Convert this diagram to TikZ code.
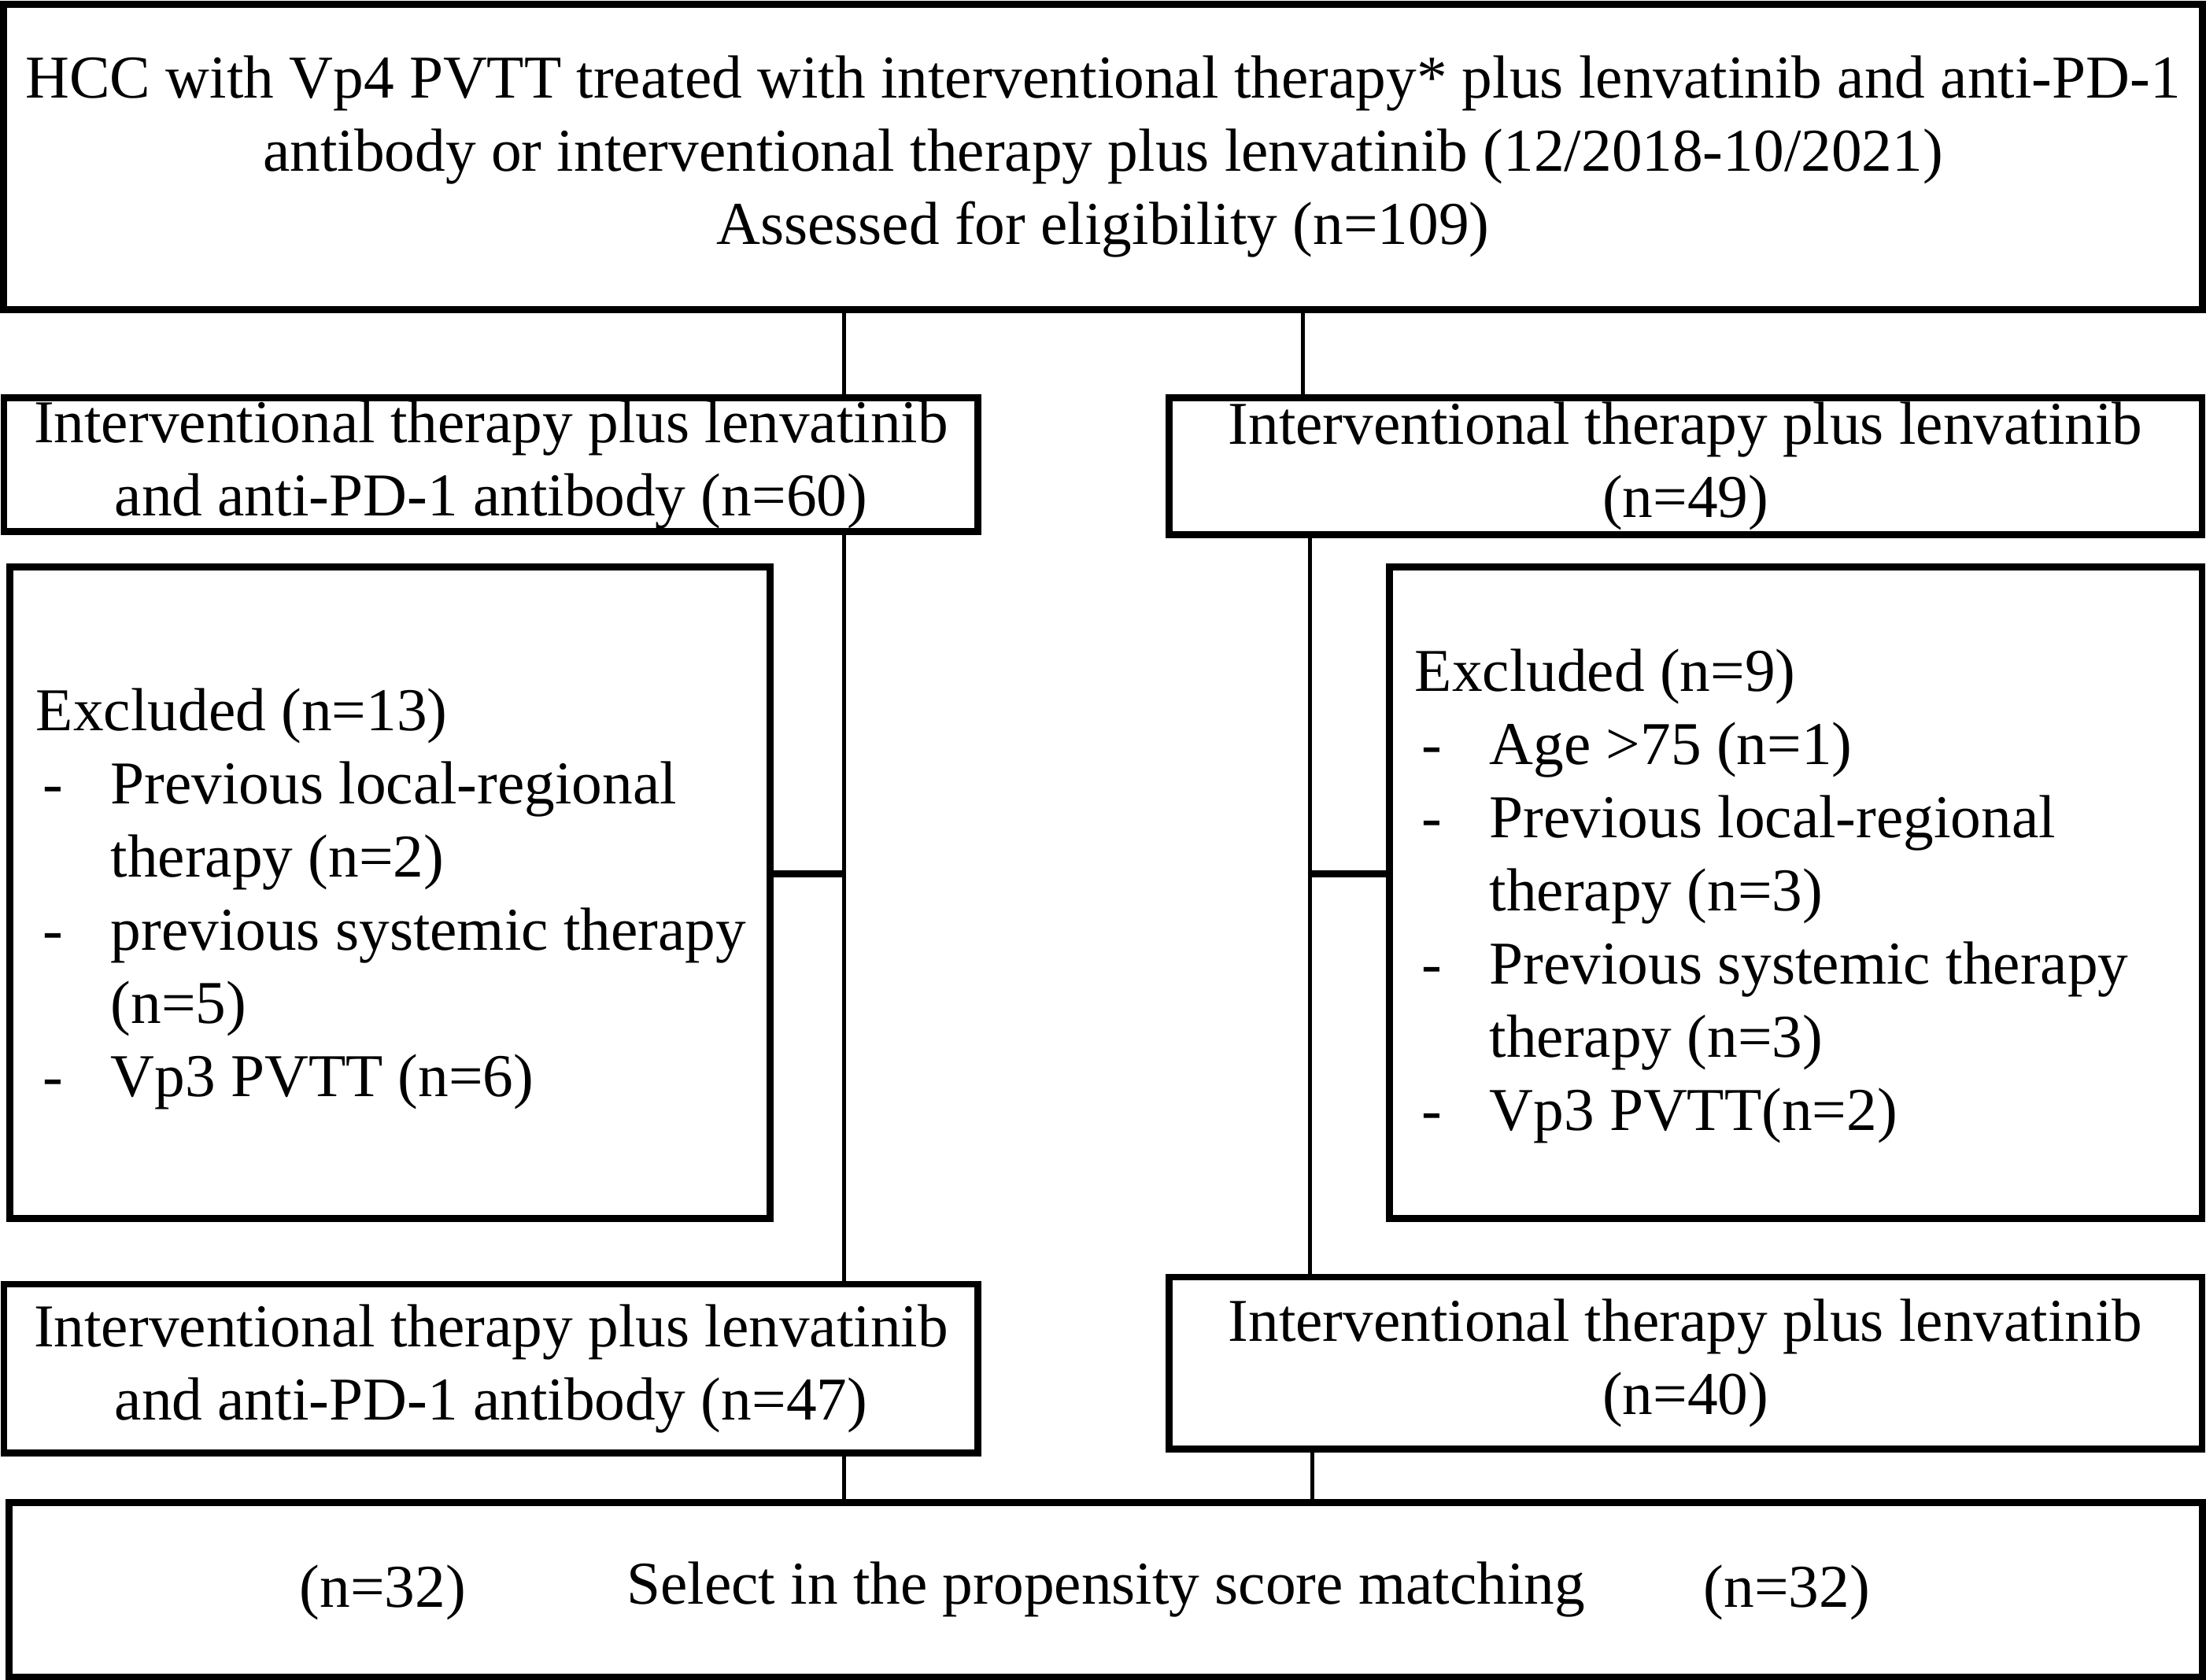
\documentclass[tikz,border=0pt]{standalone}
\usepackage{fontspec}
\setmainfont{Liberation Serif}
\usetikzlibrary{calc}
\newcommand{\exline}[1]{\makebox[0.53cm][l]{\hspace{0.05cm}-}#1}
\newcommand{\exmore}[1]{\hspace{0.53cm}#1}
\tikzset{
        box/.style={draw,line width=1.4pt,inner sep=0pt,align=center},
        exbox/.style={draw,line width=1.4pt,inner sep=0pt},
        link/.style={line width=0.8pt},
        sidelink/.style={line width=1.4pt}
}
\begin{document}
\begin{tikzpicture}[x=0.01cm,y=-0.01cm,font=\fontsize{12.3}{14.8}\selectfont]
        \useasboundingbox (0,0) rectangle (1568,1194);
        \node[box,minimum width=15.62cm,minimum height=2.17cm] (Elig) at (784,111.5)
            {HCC with Vp4 PVTT treated with interventional therapy* plus lenvatinib and anti-PD-1\\
             antibody or interventional therapy plus lenvatinib (12/2018-10/2021)\\
             Assessed for eligibility (n=109)};
        \node[box,minimum width=6.92cm,minimum height=0.95cm] (ArmA) at (349,330.5)
            {Interventional therapy plus lenvatinib\\ and anti-PD-1 antibody (n=60)};
        \node[box,minimum width=7.34cm,minimum height=0.97cm] (ArmB) at (1198,331.5)
            {Interventional therapy plus lenvatinib\\ (n=49)};
        \node[exbox,minimum width=5.40cm,minimum height=4.63cm] (ExA) at (277,634.5) {};
        \node[anchor=west,align=left,inner sep=0pt] (ExAtxt) at (25,639)
            {Excluded (n=13)\\
             \exline{Previous local-regional}\\
             \exmore{therapy (n=2)}\\
             \exline{previous systemic therapy}\\
             \exmore{(n=5)}\\
             \exline{Vp3 PVTT (n=6)}};
        \node[exbox,minimum width=5.77cm,minimum height=4.63cm] (ExB) at (1276.5,634.5) {};
        \node[anchor=west,align=left,inner sep=0pt] (ExBtxt) at (1005,637)
            {Excluded (n=9)\\
             \exline{Age >75 (n=1)}\\
             \exline{Previous local-regional}\\
             \exmore{therapy (n=3)}\\
             \exline{Previous systemic therapy}\\
             \exmore{therapy (n=3)}\\
             \exline{Vp3 PVTT(n=2)}};
        \node[box,minimum width=6.92cm,minimum height=1.20cm] (FinA) at (349,973)
            {Interventional therapy plus lenvatinib\\ and anti-PD-1 antibody (n=47)};
        \node[box,minimum width=7.34cm,minimum height=1.22cm] (FinB) at (1198,969)
            {Interventional therapy plus lenvatinib\\ (n=40)};
        \node[box,minimum width=15.58cm,minimum height=1.24cm] (PSM) at (786,1130)
            {Select in the propensity score matching};
        \node (PSMa) at (272,1132) {(n=32)};
        \node (PSMb) at (1270,1132) {(n=32)};
        \coordinate (xA) at (600,0);
        \coordinate (xB) at (926,0);
        \coordinate (xC) at (931,0);
        \coordinate (xD) at (933,0);
        \coordinate (yS) at (0,621);
        \begin{scope}[link]
            \draw (xA |- Elig.south) -- (xA |- ArmA.north);
            \draw (xB |- Elig.south) -- (xB |- ArmB.north);
            \draw (xA |- ArmA.south) -- (xA |- FinA.north);
            \draw (xC |- ArmB.south) -- (xC |- FinB.north);
            \draw (xA |- FinA.south) -- (xA |- PSM.north);
            \draw (xD |- FinB.south) -- (xD |- PSM.north);
        \end{scope}
        \draw[sidelink] (ExA.east |- yS) -- (xA |- yS);
        \draw[sidelink] (ExB.west |- yS) -- (xC |- yS);
\end{tikzpicture}
\end{document}
